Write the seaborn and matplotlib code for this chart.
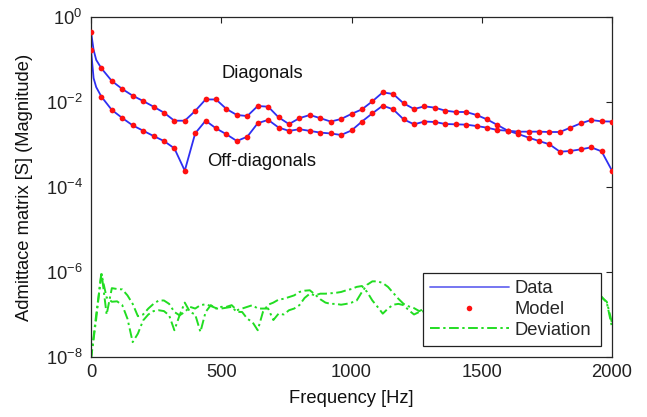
import numpy as np
import matplotlib
matplotlib.use("Agg")
import matplotlib.pyplot as plt
import seaborn as sns
from matplotlib.lines import Line2D
from matplotlib.ticker import FuncFormatter, NullLocator

# ---------------- data ----------------
# Model sample frequencies [Hz]
model_freq = list(range(0, 2001, 40))

# log10 of |Y| for diagonal / off-diagonal entries at the model frequencies
diag_log10 = [-0.345, -1.208, -1.506, -1.694, -1.851, -1.976, -2.11, -2.25, -2.44, -2.44,
              -2.21, -1.94, -1.94, -2.165, -2.306, -2.33, -2.094, -2.11, -2.36, -2.52,
              -2.38, -2.306, -2.38, -2.46, -2.40, -2.28, -2.173, -1.984, -1.773, -1.812,
              -2.031, -2.165, -2.102, -2.133, -2.204, -2.235, -2.235, -2.306, -2.408, -2.541,
              -2.675, -2.753, -2.839, -2.918, -2.996, -3.169, -3.153, -3.114, -3.067, -3.161,
              -3.616]
offdiag_log10 = [-0.776, -1.875, -2.188, -2.376, -2.55, -2.675, -2.80, -2.918, -3.09, -3.616,
                 -2.737, -2.44, -2.62, -2.76, -2.918, -2.816, -2.50, -2.42, -2.60, -2.68,
                 -2.64, -2.68, -2.72, -2.74, -2.776, -2.67, -2.46, -2.267, -2.086, -2.173,
                 -2.408, -2.525, -2.46, -2.47, -2.518, -2.525, -2.533, -2.565, -2.604, -2.659,
                 -2.675, -2.698, -2.698, -2.698, -2.706, -2.706, -2.604, -2.502, -2.424, -2.455,
                 -2.46]

# Data curve: extra readings near 0 Hz where the curve bends sharply
data_extra_freq = [10, 20]
data_extra_diag_log10 = [-0.776, -1.01]
data_extra_offdiag_log10 = [-1.44, -1.65]

# Deviation curves (log10)
dev_freq = list(range(0, 1261, 20)) + [1300, 1400, 1500, 1600, 1700, 1800, 1900, 1940, 1960, 1980, 2000]
dev_diag_log10 = [-8.05, -7.1, -6.0, -7.0, -6.38, -6.40, -6.41, -6.55, -6.75, -7.04,
                  -7.0, -6.86, -6.75, -6.67, -6.67, -6.75, -6.94, -7.02, -6.94, -6.82,
                  -6.86, -6.78, -6.76, -6.80, -6.85, -6.82, -6.82, -6.78, -6.90, -6.86,
                  -6.82, -6.78, -6.86, -6.86, -6.86, -7.13, -6.98, -7.0, -6.90, -6.86,
                  -6.78, -6.61, -6.51, -6.55, -6.51, -6.51, -6.50, -6.49, -6.47, -6.43,
                  -6.40, -6.35, -6.33, -6.47, -6.67, -6.82, -6.98, -6.86, -6.77, -6.75,
                  -6.78, -6.90, -7.0, -6.94,
                  -6.9, -6.8, -6.75, -6.85, -6.8, -6.7, -6.65, -6.6, -6.58, -6.72, -7.3]
dev_offdiag_log10 = [-8.05, -7.0, -6.05, -6.6, -6.7, -6.69, -6.78, -7.10, -7.65, -7.45,
                     -7.14, -7.0, -6.92, -6.90, -6.92, -7.02, -7.37, -7.02, -6.72, -6.94,
                     -7.0, -7.41, -6.94, -6.78, -6.86, -6.86, -6.84, -6.82, -6.94, -6.94,
                     -7.10, -7.18, -7.37, -6.94, -6.77, -6.72, -6.65, -6.63, -6.59, -6.55,
                     -6.47, -6.44, -6.43, -6.53, -6.64, -6.72, -6.75, -6.75, -6.77, -6.75,
                     -6.72, -6.67, -6.47, -6.30, -6.22, -6.22, -6.26, -6.35, -6.49, -6.63,
                     -6.75, -6.81, -6.85, -6.92,
                     -6.8, -6.9, -6.85, -6.8, -6.75, -6.8, -6.7, -6.62, -6.6, -6.7, -7.2]

x_ticks = [0, 500, 1000, 1500, 2000]
y_ticks = [1e0, 1e-2, 1e-4, 1e-6, 1e-8]

# ---------------- build arrays ----------------
model_diag = 10.0 ** np.array(diag_log10)
model_offdiag = 10.0 ** np.array(offdiag_log10)

data_freq = np.array(model_freq[:1] + data_extra_freq + model_freq[1:])
data_diag = 10.0 ** np.array(diag_log10[:1] + data_extra_diag_log10 + diag_log10[1:])
data_offdiag = 10.0 ** np.array(offdiag_log10[:1] + data_extra_offdiag_log10 + offdiag_log10[1:])

dev_diag = 10.0 ** np.array(dev_diag_log10)
dev_offdiag = 10.0 ** np.array(dev_offdiag_log10)

# ---------------- style ----------------
sns.set_style("white")
plt.rcParams['font.family'] = ['Liberation Sans', 'DejaVu Sans']
plt.rcParams['mathtext.fontset'] = 'custom'
plt.rcParams['mathtext.rm'] = 'Liberation Sans'
plt.rcParams['mathtext.default'] = 'regular'
FS = 13.2

BLUE = '#2f2ff2'
RED = '#ff1010'
GREEN = '#22dd22'
DEV_LS = (0, (5, 1.8, 1.2, 1.8))

fig = plt.figure(figsize=(6.47, 4.17), dpi=100)
ax = fig.add_axes([0.14065, 0.14388, 0.80526, 0.81535])
ax.set_yscale('log')

# Data lines
sns.lineplot(x=data_freq, y=data_diag, ax=ax, color=BLUE, linewidth=1.3,
             estimator=None, sort=False, legend=False)
sns.lineplot(x=data_freq, y=data_offdiag, ax=ax, color=BLUE, linewidth=1.3,
             estimator=None, sort=False, legend=False)

# Model points
sns.scatterplot(x=model_freq, y=model_diag, ax=ax, color=RED, s=17, linewidth=0,
                legend=False, zorder=3)
sns.scatterplot(x=model_freq, y=model_offdiag, ax=ax, color=RED, s=17, linewidth=0,
                legend=False, zorder=3)

# Deviation lines
sns.lineplot(x=dev_freq, y=dev_diag, ax=ax, color=GREEN, linewidth=1.4,
             linestyle=DEV_LS, estimator=None, sort=False, legend=False)
sns.lineplot(x=dev_freq, y=dev_offdiag, ax=ax, color=GREEN, linewidth=1.4,
             linestyle=DEV_LS, estimator=None, sort=False, legend=False)

ax.set_xlim(0, 2000)
ax.set_ylim(1e-8, 1e0)
ax.set_xticks(x_ticks)
ax.set_xticklabels([str(t) for t in x_ticks])
ax.set_yticks(y_ticks)
ax.yaxis.set_minor_locator(NullLocator())
ax.yaxis.set_major_formatter(FuncFormatter(lambda v, p: r'$10^{%d}$' % int(round(np.log10(v)))))

ax.tick_params(direction='in', top=True, right=True, length=4, width=0.8,
               labelsize=FS, colors='#222222', pad=5)
ax.tick_params(axis='y', pad=6)
for sp in ax.spines.values():
    sp.set_color('#262626')
    sp.set_linewidth(0.9)

ax.set_xlabel('Frequency [Hz]', fontsize=FS, color='#111111')
ax.set_ylabel('Admittace matrix [S] (Magnitude)', fontsize=FS, color='#111111')
ax.xaxis.set_label_coords(0.5, -0.098)
ax.yaxis.set_label_coords(-0.111, 0.5)

ax.text(502, 10 ** -1.34, 'Diagonals', fontsize=FS, va='center', ha='left', color='#111111')
ax.text(444, 10 ** -3.39, 'Off-diagonals', fontsize=FS, va='center', ha='left', color='#111111')

handles = [
    Line2D([], [], color='#6a6af0', linewidth=1.3),
    Line2D([], [], color=RED, linestyle='none', marker='o', markersize=4, markeredgewidth=0),
    Line2D([], [], color=GREEN, linewidth=1.4, linestyle=DEV_LS),
]
leg = ax.legend(handles, ['Data', 'Model', 'Deviation'], loc='lower left',
                bbox_to_anchor=(0.6367, 0.0324, 0.3423, 0.2235), mode='expand',
                fontsize=FS, frameon=True,
                fancybox=False, framealpha=1, edgecolor='#222222',
                handlelength=4.3, handletextpad=0.32, borderpad=0.4,
                labelspacing=0.2, borderaxespad=0)
leg.get_frame().set_linewidth(0.9)
leg.set_zorder(5)

fig.savefig('out.png', dpi=100, facecolor='white')
